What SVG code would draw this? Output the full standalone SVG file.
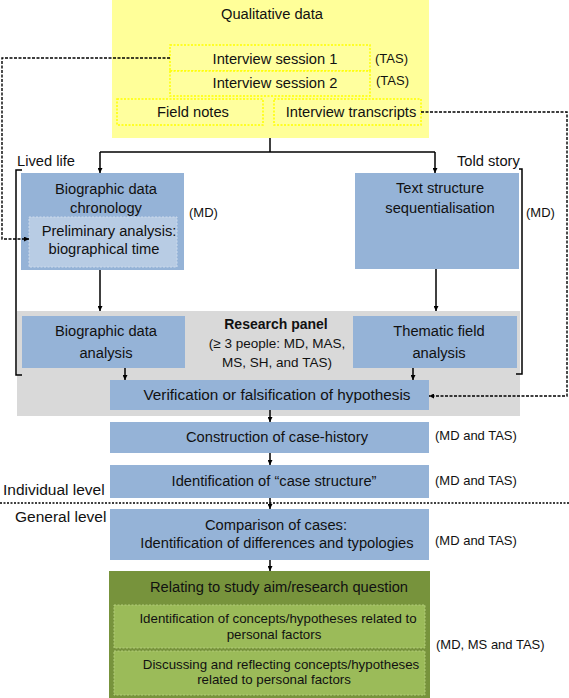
<svg xmlns="http://www.w3.org/2000/svg" width="569" height="698" viewBox="0 0 569 698">
<defs>
<marker id="ah" viewBox="0 0 10 10" refX="10" refY="5" markerWidth="5" markerHeight="5" orient="auto" markerUnits="userSpaceOnUse"><path d="M0,0 L10,5 L0,10 z" fill="#000"/></marker>
<style>
text{font-family:"Liberation Sans",Arial,sans-serif;font-size:14.7px;fill:#111}
.c{text-anchor:middle}
.b{font-weight:bold;font-size:14px}
.n{font-size:13px}
.lv{font-size:15.5px}
.rp{font-size:13.5px}
.g{font-size:13.3px}
.blue{fill:#95b3d7}
.ybox{fill:#ffff9e;stroke:#ffff00;stroke-width:1.5;stroke-dasharray:2 1.5}
.ln{stroke:#000;stroke-width:1.5;fill:none}
.ar{stroke:#000;stroke-width:1.5;fill:none;marker-end:url(#ah)}
.dash{stroke:#000;stroke-width:1.4;fill:none;stroke-dasharray:3 1.5}
.gin{fill:#9bbb59;stroke:#b3cc7a;stroke-width:1;stroke-dasharray:2 1.5}
</style>
</defs>
<rect x="0" y="0" width="569" height="698" fill="#fff"/>
<g id="qualitative-data">
<rect x="112" y="0" width="317" height="138" fill="#ffff99"/>
<text x="272" y="19" class="c">Qualitative data</text>
</g>
<g id="interview1">
<rect x="170" y="45" width="200" height="26" class="ybox"/>
<text x="275" y="64" class="c">Interview session 1</text>
<text x="375" y="63" class="n">(TAS)</text>
</g>
<g id="interview2">
<rect x="170" y="71" width="200" height="25" class="ybox"/>
<text x="275" y="88" class="c">Interview session 2</text>
<text x="376" y="85" class="n">(TAS)</text>
</g>
<g id="field-notes">
<rect x="117" y="99" width="146" height="26" class="ybox"/>
<text x="193" y="117" class="c">Field notes</text>
</g>
<g id="transcripts">
<rect x="274" y="99" width="147" height="26" class="ybox"/>
<text x="351" y="117" class="c">Interview transcripts</text>
</g>
<g id="labels">
<text x="17" y="166" style="font-size:14.7px">Lived life</text>
<text x="457" y="166" style="font-size:14.7px">Told story</text>
<text x="3" y="495" class="lv">Individual level</text>
<text x="15" y="522" class="lv">General level</text>
</g>
<g id="research-panel">
<rect x="17" y="311" width="503" height="105" fill="#d9d9d9"/>
<text x="276" y="329" class="c b">Research panel</text>
<text x="277" y="348" class="c rp">(≥ 3 people: MD, MAS,</text>
<text x="277" y="367" class="c rp">MS, SH, and TAS)</text>
</g>
<g id="bio-chronology">
<rect x="21" y="173" width="163" height="97" class="blue"/>
<text x="106" y="194" class="c">Biographic data</text>
<text x="106" y="213" class="c">chronology</text>
<text x="189" y="217" class="n">(MD)</text>
</g>
<g id="preliminary">
<rect x="29" y="217" width="148" height="50" fill="#b8cce4" stroke="#cddbec" stroke-width="1" stroke-dasharray="2 1.5"/>
<text x="109" y="236" class="c">Preliminary analysis:</text>
<text x="104" y="254" class="c">biographical time</text>
</g>
<g id="text-structure">
<rect x="355" y="173" width="164" height="96" class="blue"/>
<text x="440" y="193" class="c">Text structure</text>
<text x="440" y="213" class="c">sequentialisation</text>
<text x="526" y="217" class="n">(MD)</text>
</g>
<g id="bio-analysis">
<rect x="22" y="316" width="163" height="52" class="blue"/>
<text x="106" y="336" class="c">Biographic data</text>
<text x="106" y="358" class="c">analysis</text>
</g>
<g id="thematic">
<rect x="353" y="316" width="164" height="52" class="blue"/>
<text x="439" y="336" class="c">Thematic field</text>
<text x="439" y="358" class="c">analysis</text>
</g>
<g id="verification">
<rect x="110" y="380" width="319" height="30" class="blue"/>
<text x="277" y="400" class="c" style="font-size:15.3px">Verification or falsification of hypothesis</text>
</g>
<g id="construction">
<rect x="110" y="422" width="319" height="31" class="blue"/>
<text x="277" y="442" class="c">Construction of case-history</text>
<text x="435" y="440" class="n">(MD and TAS)</text>
</g>
<g id="case-structure">
<rect x="110" y="465" width="319" height="33" class="blue"/>
<text x="274" y="486" class="c">Identification of “case structure”</text>
<text x="435" y="485" class="n">(MD and TAS)</text>
</g>
<g id="comparison">
<rect x="110" y="509" width="319" height="51" class="blue"/>
<text x="276" y="530" class="c">Comparison of cases:</text>
<text x="277" y="548" class="c">Identification of differences and typologies</text>
<text x="435" y="545" class="n">(MD and TAS)</text>
</g>
<g id="relating">
<rect x="109" y="571" width="321" height="127" fill="#77933c"/>
<text x="279" y="592" class="c">Relating to study aim/research question</text>
<text x="436" y="649" class="n">(MD, MS and TAS)</text>
</g>
<g id="identification-concepts">
<rect x="114" y="605" width="311" height="43" class="gin"/>
<text x="278" y="623" class="c g">Identification of concepts/hypotheses related to</text>
<text x="274" y="639" class="c g">personal factors</text>
</g>
<g id="discussing">
<rect x="114" y="651" width="311" height="44" class="gin"/>
<text x="281" y="669" class="c g">Discussing and reflecting concepts/hypotheses</text>
<text x="274" y="684" class="c g">related to personal factors</text>
</g>
<g id="connectors">
<path d="M270,138 V152" class="ln"/>
<path d="M100,152 H435" class="ln"/>
<path d="M100,152 V173" class="ar"/>
<path d="M435,152 V173" class="ar"/>
<path d="M22,170 H16 V375 H22" class="ln"/>
<path d="M519,169 H522 V374 H516" class="ln"/>
<path d="M100,270 V311" class="ar"/>
<path d="M436,269 V311" class="ar"/>
<path d="M125,368 V380" class="ar"/>
<path d="M413,368 V380" class="ar"/>
<path d="M270,410 V422" class="ar"/>
<path d="M270,453 V465" class="ar"/>
<path d="M270,498 V509" class="ar"/>
<path d="M270,560 V571" class="ar"/>
<path d="M170,58 H2 V239 H29" class="dash" marker-end="url(#ah)"/>
<path d="M421,112 H567 V396 H429" class="dash" marker-end="url(#ah)"/>
<path d="M0,503 H569" stroke="#000" stroke-width="1.5" stroke-dasharray="2 1.5" fill="none"/>
</g>
</svg>
